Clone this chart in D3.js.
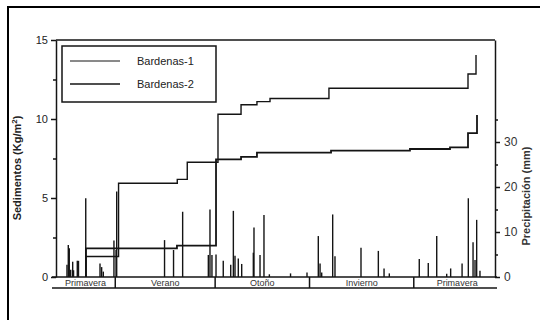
<!DOCTYPE html>
<html>
<head>
<meta charset="utf-8">
<script src="https://cdn.jsdelivr.net/npm/d3@7"></script>
<style>
  html, body { margin: 0; padding: 0; background: #fff; }
  svg { display: block; font-family: "Liberation Sans", Arial, sans-serif; }
</style>
</head>
<body>
<div id="chart"></div>
<script>
// Precipitation events: day of the period and rain (mm)
const rainDays = [10, 11.2, 12.1, 13.4, 15.2, 16, 19.4, 20.5, 27.1, 40.1, 41.6, 43.1,
  52.8, 54.7, 55.3, 98.9, 107.1, 115.4, 138.8, 140.3, 142.1, 145.8, 152.4, 159.2,
  161.6, 163.1, 166.1, 169.2, 179.8, 180.4, 185.9, 189.5, 194.4, 213.7, 228.7, 239,
  240.6, 242.1, 252.1, 254.2, 277.9, 293.7, 298.9, 303.7, 331, 339.2, 346.9, 356,
  359.6, 370, 375.7, 380, 381.8, 383.3, 386.3];
const rainMm = [2.7, 7.1, 6.4, 1.6, 3.4, 1.5, 3.6, 3.6, 17.5, 3, 2.2, 1.2,
  8.1, 6, 19, 8.2, 6, 14.5, 4.9, 15, 4.9, 5, 3.6, 2.7,
  14.7, 4.7, 4.1, 2.9, 5.4, 11, 4.9, 13.8, 0.6, 0.8, 1, 9.1,
  3, 1, 13.9, 4.6, 6.5, 5.8, 1.9, 0.8, 4, 3.1, 9.1, 0.7,
  1.9, 3, 17.5, 7.7, 3.8, 12.7, 1.4];

// Cumulative sediment (Kg/m2)
const b1Days = [27.3, 27.3, 57, 110.5, 119.6, 147.6, 168.6, 183.1, 195, 248.7, 375.4, 382.7];
const b1Vals = [0, 1.3, 5.93, 6.18, 7.26, 10.3, 10.9, 11.1, 11.3, 11.95, 12.85, 14.05];
const b2Days = [27.3, 27.3, 110.2, 145.8, 168.6, 183.1, 250.6, 322.5, 359, 375.4, 383.6];
const b2Vals = [0, 1.81, 1.98, 7.45, 7.6, 7.87, 8.0, 8.1, 8.2, 9.1, 10.25];

const seriesNames = ["Bardenas-1", "Bardenas-2"];
const seasons = ["Primavera", "Verano", "Otoño", "Invierno", "Primavera"];
const seasonBreaks = [0, 54, 145, 231, 326, 405];

const leftTicks = [0, 5, 10, 15];
const leftMinor = [2.5, 7.5, 12.5];
const rightTicks = [0, 10, 20, 30];
const rightMinor = [5, 15, 25, 35];

const W = 540, H = 320;
const margin = { top: 40, right: 45, bottom: 43, left: 56 };
const ink = "#141414";

const svg = d3.select("#chart").append("svg")
  .attr("width", W).attr("height", H);

// outer figure frame (only top and left visible)
svg.append("path")
  .attr("d", `M8,${H} L8,7 L${W},7`)
  .attr("fill", "none").attr("stroke", "#000").attr("stroke-width", 2);

const x = d3.scaleLinear().domain([0, 400]).range([margin.left, W - margin.right]);
const yL = d3.scaleLinear().domain([0, 15]).range([H - margin.bottom, margin.top]);
const yR = d3.scaleLinear().domain([0, 52.67]).range([H - margin.bottom, margin.top]);

const x0 = x.range()[0], x1 = x.range()[1];
const yb = yL(0), yt = yL(15);

// plot frame top and bottom
svg.append("line").attr("x1", x0).attr("x2", x1).attr("y1", yt).attr("y2", yt)
  .attr("stroke", ink).attr("stroke-width", 1.5);
svg.append("line").attr("x1", x0 - 4).attr("x2", x1 + 2).attr("y1", yb).attr("y2", yb)
  .attr("stroke", ink).attr("stroke-width", 1.5);

// precipitation bars
svg.append("g").selectAll("line")
  .data(rainDays.map((d, i) => ({ d, v: rainMm[i] })))
  .join("line")
  .attr("x1", d => x(d.d)).attr("x2", d => x(d.d))
  .attr("y1", yR(0)).attr("y2", d => yR(d.v))
  .attr("stroke", ink).attr("stroke-width", 1.4);

// cumulative sediment lines
const line = d3.line().curve(d3.curveStepAfter)
  .x(d => x(d[0])).y(d => yL(d[1]));

svg.append("path")
  .datum(b1Days.map((d, i) => [d, b1Vals[i]]))
  .attr("fill", "none").attr("stroke", ink).attr("stroke-width", 1.4)
  .attr("d", line);
svg.append("path")
  .datum(b2Days.map((d, i) => [d, b2Vals[i]]))
  .attr("fill", "none").attr("stroke", ink).attr("stroke-width", 1.8)
  .attr("d", line);

// left axis
const gL = svg.append("g").attr("transform", `translate(${x0},0)`)
  .call(d3.axisLeft(yL).tickValues(leftTicks).tickSize(5).tickSizeOuter(0).tickPadding(3));
svg.append("g").attr("transform", `translate(${x0},0)`)
  .call(d3.axisLeft(yL).tickValues(leftMinor).tickSize(3).tickSizeOuter(0).tickFormat(""))
  .select(".domain").remove();

// right axis
const gR = svg.append("g").attr("transform", `translate(${x1},0)`)
  .call(d3.axisRight(yR).tickValues(rightTicks).tickSize(5).tickSizeOuter(0).tickPadding(4));
svg.append("g").attr("transform", `translate(${x1},0)`)
  .call(d3.axisRight(yR).tickValues(rightMinor).tickSize(3).tickSizeOuter(0).tickFormat(""))
  .select(".domain").remove();

svg.selectAll(".domain, .tick line").attr("stroke", ink).attr("stroke-width", 1.5);
gL.selectAll("text").attr("font-size", 11).attr("fill", "#222");
gR.selectAll("text").attr("font-size", 12).attr("fill", "#333");

// axis titles
svg.append("text")
  .attr("transform", "translate(21,168) rotate(-90)")
  .attr("text-anchor", "middle").attr("font-size", 11).attr("font-weight", "bold")
  .attr("fill", "#222")
  .html('Sedimentos (Kg/m<tspan dy="-4" font-size="8">2</tspan><tspan dy="4">)</tspan>');
svg.append("text")
  .attr("transform", "translate(530,196) rotate(-90)")
  .attr("text-anchor", "middle").attr("font-size", 11).attr("font-weight", "bold")
  .attr("fill", "#333")
  .text("Precipitación (mm)");

// season strip
const ys = yb + 11;
svg.append("line").attr("x1", x0 - 4).attr("x2", x1 + 2).attr("y1", ys).attr("y2", ys)
  .attr("stroke", ink).attr("stroke-width", 1.5);
svg.append("g").selectAll("line")
  .data(seasonBreaks.slice(1, -1))
  .join("line")
  .attr("x1", d => x(d)).attr("x2", d => x(d))
  .attr("y1", yb).attr("y2", ys)
  .attr("stroke", ink).attr("stroke-width", 1.5);
svg.append("g").selectAll("text")
  .data(seasons)
  .join("text")
  .attr("x", (d, i) => x((seasonBreaks[i] + seasonBreaks[i + 1]) / 2))
  .attr("y", yb + 9)
  .attr("text-anchor", "middle").attr("font-size", 9).attr("fill", "#333")
  .text(d => d);

// legend
const lg = svg.append("g");
lg.append("rect").attr("x", 62).attr("y", 46).attr("width", 154).attr("height", 56)
  .attr("fill", "#fff").attr("stroke", ink).attr("stroke-width", 1.5);
seriesNames.forEach((name, i) => {
  const ly = 61 + i * 23;
  lg.append("line").attr("x1", 70).attr("x2", 120).attr("y1", ly).attr("y2", ly)
    .attr("stroke", ink).attr("stroke-width", i === 0 ? 1 : 1.6);
  lg.append("text").attr("x", 137).attr("y", ly + 4)
    .attr("font-size", 11).attr("fill", "#222").text(name);
});
</script>
</body>
</html>
